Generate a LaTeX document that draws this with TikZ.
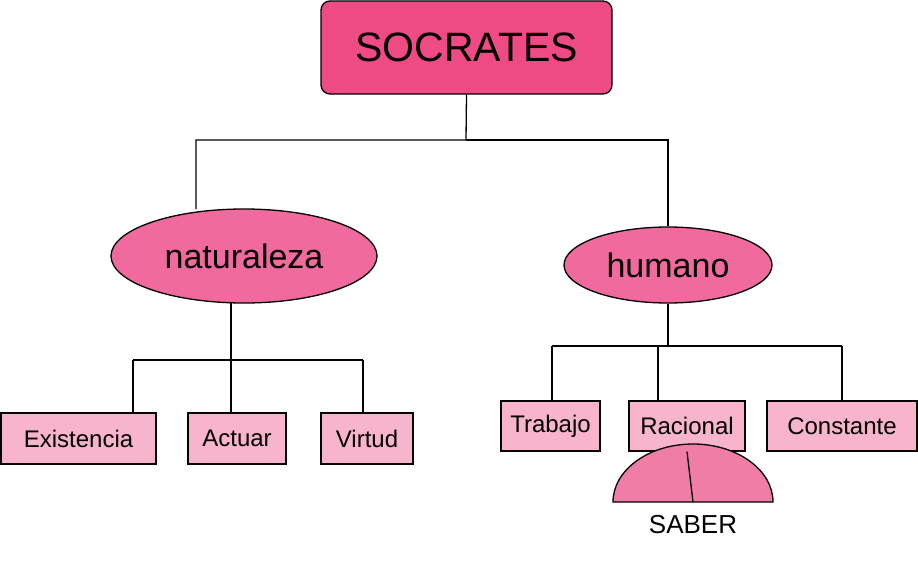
\documentclass[tikz,border=0pt]{standalone}
\usepackage{fontspec}
\setmainfont{Liberation Sans}
\usetikzlibrary{shapes.geometric}
\definecolor{c1}{HTML}{EE4A86}
\definecolor{c2}{HTML}{F06A9D}
\definecolor{c3}{HTML}{F8B4CC}
\definecolor{c4}{HTML}{F07CA8}
\begin{document}
\begin{tikzpicture}[x=1pt,y=-1pt,line width=1.3pt,
 leaf/.style={draw,fill=c3,minimum height=51pt,inner sep=0pt,font=\fontsize{24}{28}\selectfont},
 ell/.style={draw,ellipse,fill=c2,inner sep=0pt}]
\useasboundingbox (0,0) rectangle (918,562);
\node[draw,fill=c1,rounded corners=9pt,minimum width=291pt,minimum height=93pt,font=\fontsize{41}{48}\selectfont] (s) at (466.5,47.5) {SOCRATES};
\node[ell,minimum width=266pt,minimum height=94pt,font=\fontsize{34}{40}\selectfont] (n) at (244,256) {naturaleza};
\node[ell,minimum width=208pt,minimum height=76pt,font=\fontsize{34}{40}\selectfont] (h) at (668,265) {humano};
\node[leaf,minimum width=155pt] (e) at (78.5,438.5) {Existencia};
\node[leaf,minimum width=98pt] (a) at (237,438.5) {Actuar};
\node[leaf,minimum width=92pt] (v) at (367,438.5) {Virtud};
\node[leaf,minimum width=99pt,minimum height=50pt] (t) at (550.5,426) {Trabajo};
\node[leaf,minimum width=116pt,minimum height=50pt] (r) at (687,426) {Racional};
\node[leaf,minimum width=150pt,minimum height=50pt] (c) at (842,426) {Constante};
\coordinate (sb) at (693,502);
\draw[fill=c4] (613,502) -- (773,502) arc[start angle=0,end angle=180,x radius=80,y radius=-58] -- cycle;
\node[font=\fontsize{26}{30}\selectfont] (sab) at (693,525) {SABER};
\draw (s.south) -- (466,140) -| (196,209);
\draw (466,140) -| (h.north);
\draw (231,303) -- (231,360);
\draw (133,360) -- (363,360);
\draw (133,360) -- (133,413);
\draw (231,360) -- (231,413);
\draw (363,360) -- (363,413);
\draw (h.south) -- (668,346);
\draw (552,346) -- (842,346);
\draw (552,346) -- (552,401);
\draw (658,346) -- (658,401);
\draw (842,346) -- (842,401);
\draw (r.south) -- (sb);
\end{tikzpicture}
\end{document}
